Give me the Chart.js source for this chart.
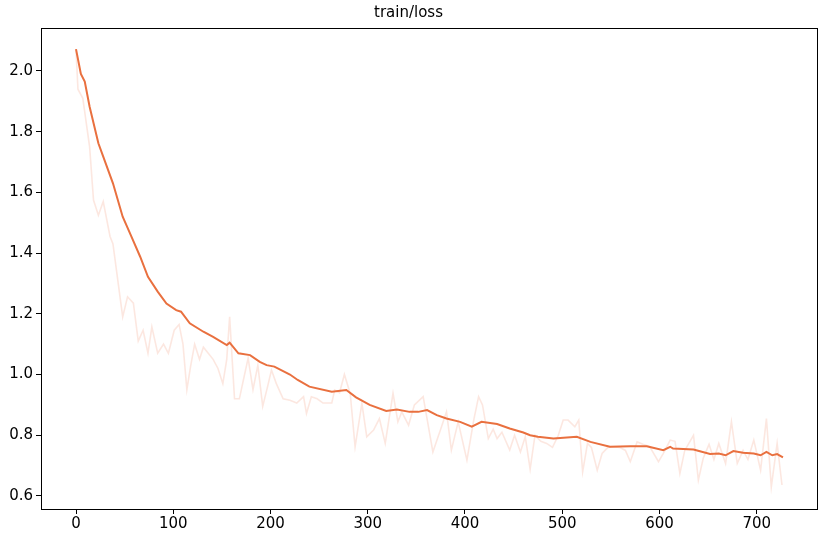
<!DOCTYPE html>
<html lang="en">
<head>
    <meta charset="UTF-8">
    <title>train/loss</title>
    <script src="https://cdn.jsdelivr.net/npm/chart.js@4.4.1/dist/chart.umd.min.js"></script>
    <style>
        body {
            margin: 0;
            background: #fff;
        }
        .chart-box {
            width: 826px;
            height: 542px;
        }
    </style>
</head>
<body>
    <div class="chart-box">
        <canvas id="lossChart"></canvas>
    </div>

    <script>
        // raw loss as logged
        const rawSteps = [0, 2, 7, 14, 18, 23, 28, 35, 38, 48, 53, 59, 64, 69, 74, 78, 84, 90, 95, 101,
            106, 110, 114, 118, 122, 127, 131, 136, 141, 146, 151, 155, 158, 163, 168, 172, 177, 182, 187, 192,
            197, 201, 206, 213, 220, 227, 234, 237, 242, 248, 254, 263, 266, 271, 276, 282, 287, 294, 299, 306,
            312, 318, 326, 331, 335, 342, 348, 357, 367, 375, 381, 386, 393, 402, 409, 414, 418, 424, 429, 433,
            438, 446, 451, 457, 462, 467, 472, 478, 484, 490, 496, 501, 506, 513, 517, 521, 526, 530, 536, 541,
            547, 553, 559, 565, 570, 577, 583, 590, 599, 604, 611, 616, 621, 626, 635, 640, 645, 651, 656, 661,
            668, 674, 680, 686, 691, 697, 704, 710, 715, 721, 726];
        const rawLoss = [2.07, 1.94, 1.91, 1.75, 1.575, 1.525, 1.57, 1.455, 1.43, 1.19, 1.256, 1.235, 1.11, 1.146, 1.07, 1.157, 1.07, 1.10, 1.07, 1.146,
            1.165, 1.10, 0.95, 1.03, 1.10, 1.05, 1.09, 1.07, 1.05, 1.02, 0.97, 1.05, 1.19, 0.92, 0.92, 0.98, 1.054, 0.95, 1.03, 0.895,
            0.96, 1.015, 0.97, 0.92, 0.915, 0.906, 0.927, 0.872, 0.927, 0.92, 0.906, 0.906, 0.949, 0.94, 1.0, 0.937, 0.762, 0.905, 0.795, 0.817,
            0.855, 0.773, 0.938, 0.844, 0.877, 0.833, 0.90, 0.927, 0.745, 0.82, 0.877, 0.751, 0.844, 0.718, 0.85, 0.927, 0.90, 0.789, 0.82, 0.789,
            0.81, 0.751, 0.80, 0.745, 0.795, 0.688, 0.80, 0.78, 0.773, 0.76, 0.80, 0.85, 0.85, 0.828, 0.85, 0.679, 0.773, 0.76, 0.685, 0.74,
            0.76, 0.762, 0.76, 0.75, 0.713, 0.778, 0.77, 0.762, 0.713, 0.74, 0.784, 0.78, 0.674, 0.75, 0.80, 0.652, 0.724, 0.77, 0.72, 0.773,
            0.707, 0.844, 0.707, 0.75, 0.72, 0.784, 0.685, 0.855, 0.63, 0.773, 0.636];

        // smoothed curve
        const smoothSteps = [0, 5, 9, 14, 23, 28, 38, 48, 57, 66, 74, 84, 93, 103, 108, 117, 131, 141, 155, 158,
            167, 179, 189, 196, 204, 220, 228, 240, 263, 278, 288, 302, 319, 330, 343, 352, 361, 371, 381, 395,
            407, 417, 433, 446, 460, 467, 475, 491, 515, 529, 549, 570, 587, 604, 611, 614, 635, 652, 661, 668,
            676, 686, 697, 704, 710, 716, 721, 727];
        const smoothLoss = [2.072, 1.99, 1.965, 1.882, 1.762, 1.718, 1.63, 1.52, 1.454, 1.388, 1.322, 1.273, 1.234, 1.212, 1.207, 1.169, 1.141, 1.124, 1.097, 1.105,
            1.07, 1.064, 1.042, 1.031, 1.026, 1.0, 0.982, 0.96, 0.943, 0.949, 0.925, 0.90, 0.88, 0.885, 0.877, 0.877, 0.883, 0.866, 0.855, 0.844,
            0.828, 0.844, 0.837, 0.822, 0.809, 0.80, 0.795, 0.789, 0.795, 0.778, 0.762, 0.764, 0.764, 0.751, 0.762, 0.756, 0.753, 0.738, 0.74, 0.734,
            0.748, 0.742, 0.74, 0.734, 0.745, 0.734, 0.738, 0.727];

        const xTicks = [0, 100, 200, 300, 400, 500, 600, 700];
        const yTicks = [0.6, 0.8, 1.0, 1.2, 1.4, 1.6, 1.8, 2.0];

        const toPoints = (xs, ys) => xs.map((x, i) => ({ x: x, y: ys[i] }));

        // matplotlib style box around the axes
        const frame = {
            id: 'frame',
            afterDraw(chart) {
                const a = chart.chartArea;
                const ctx = chart.ctx;
                ctx.save();
                ctx.strokeStyle = '#000';
                ctx.lineWidth = 1;
                ctx.strokeRect(Math.round(a.left) + 0.5, Math.round(a.top) + 0.5,
                    Math.round(a.right - a.left), Math.round(a.bottom - a.top));
                ctx.restore();
            }
        };

        const tickFont = { family: 'DejaVu Sans', size: 15 };

        new Chart(document.getElementById('lossChart'), {
            type: 'line',
            data: {
                datasets: [{
                    label: 'smoothed',
                    data: toPoints(smoothSteps, smoothLoss),
                    borderColor: '#e9703f',
                    borderWidth: 2,
                    pointRadius: 0,
                    tension: 0,
                    order: 1
                }, {
                    label: 'raw',
                    data: toPoints(rawSteps, rawLoss),
                    borderColor: 'rgba(236, 112, 70, 0.17)',
                    borderWidth: 1.6,
                    pointRadius: 0,
                    tension: 0,
                    order: 2
                }]
            },
            options: {
                responsive: true,
                maintainAspectRatio: false,
                animation: false,
                layout: { padding: { right: 9, left: 0, bottom: 0 } },
                plugins: {
                    legend: { display: false },
                    tooltip: { enabled: false },
                    title: {
                        display: true,
                        text: 'train/loss',
                        color: '#000',
                        font: { family: 'DejaVu Sans', size: 15, weight: 'normal' },
                        padding: { top: 4, bottom: 6 }
                    }
                },
                scales: {
                    x: {
                        type: 'linear',
                        min: -36,
                        max: 762,
                        afterBuildTicks: s => { s.ticks = xTicks.map(v => ({ value: v })); },
                        afterFit: s => { s.height = 33; },
                        grid: { display: true, drawOnChartArea: false, drawTicks: true, tickLength: 5, color: '#000' },
                        border: { display: false },
                        ticks: { color: '#000', font: tickFont, padding: 1, maxRotation: 0 }
                    },
                    y: {
                        min: 0.557,
                        max: 2.1416,
                        afterBuildTicks: s => { s.ticks = yTicks.map(v => ({ value: v })); },
                        afterFit: s => { s.width = 41; },
                        grid: { display: true, drawOnChartArea: false, drawTicks: true, tickLength: 5, color: '#000' },
                        border: { display: false },
                        ticks: { color: '#000', font: tickFont, padding: 3, callback: v => v.toFixed(1) }
                    }
                }
            },
            plugins: [frame]
        });
    </script>
</body>
</html>
